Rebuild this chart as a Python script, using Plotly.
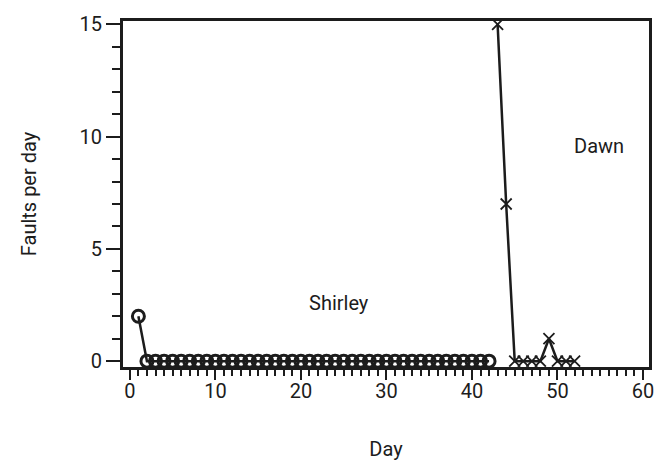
import plotly.graph_objects as go

shirley_days = list(range(1, 43))
shirley_faults = [2] + [0] * 41

dawn_days = [43, 44, 45, 46, 47, 48, 49, 50, 51, 52]
dawn_faults = [15, 7, 0, 0, 0, 0, 1, 0, 0, 0]

x_ticks = [0, 10, 20, 30, 40, 50, 60]
y_ticks = [0, 5, 10, 15]

INK = "#1c1c1c"
FONT = dict(family="Roboto", size=20, color=INK)

fig = go.Figure()
fig.add_trace(go.Scatter(
    x=shirley_days, y=shirley_faults, mode="lines+markers",
    line=dict(color=INK, width=2.5),
    marker=dict(symbol="circle-open", size=12, color=INK, line=dict(width=3, color=INK)),
    showlegend=False, cliponaxis=False,
))
fig.add_trace(go.Scatter(
    x=dawn_days, y=dawn_faults, mode="lines+markers",
    line=dict(color=INK, width=2.5),
    marker=dict(symbol="x-thin-open", size=11, color=INK, line=dict(width=1.8, color=INK)),
    showlegend=False, cliponaxis=False,
))

fig.add_annotation(x=24.4, y=2.57, text="Shirley", showarrow=False, font=FONT)
fig.add_annotation(x=54.9, y=9.6, text="Dawn", showarrow=False, font=FONT)

fig.update_layout(
    width=666, height=469,
    margin=dict(l=123, r=13, t=16, b=101),
    paper_bgcolor="white", plot_bgcolor="white",
    font=FONT,
)
fig.update_xaxes(
    range=[-0.8, 60.7], tickvals=x_ticks, ticktext=[str(v) for v in x_ticks],
    showgrid=False, zeroline=False,
    showline=True, linewidth=3, linecolor=INK, mirror=True,
    ticks="outside", ticklen=10, tickwidth=2, tickcolor=INK,
    ticklabelstandoff=-6,
    minor=dict(dtick=1, tick0=0, ticks="outside", ticklen=6, tickwidth=1.5, tickcolor=INK),
    title=dict(text="Day", standoff=40, font=FONT),
)
fig.update_yaxes(
    range=[-0.26, 15.15], tickvals=y_ticks, ticktext=[str(v) for v in y_ticks],
    showgrid=False, zeroline=False,
    showline=True, linewidth=3, linecolor=INK, mirror=True,
    ticks="outside", ticklen=14, tickwidth=2, tickcolor=INK,
    minor=dict(dtick=1, tick0=0, ticks="outside", ticklen=8, tickwidth=1.5, tickcolor=INK),
    title=dict(text="Faults per day", standoff=38, font=FONT),
)

fig.write_html("out.html")
